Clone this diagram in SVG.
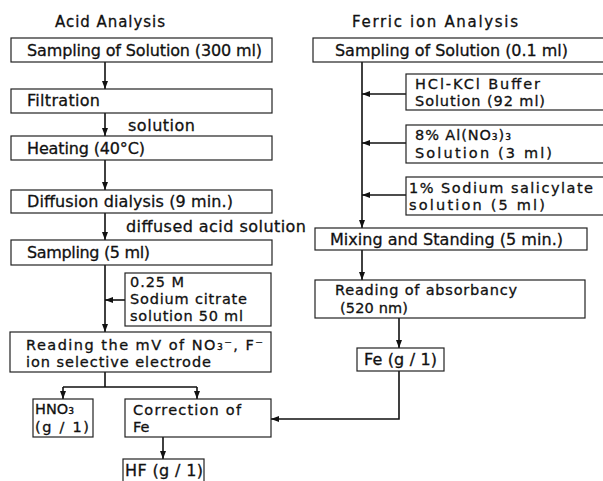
<svg xmlns="http://www.w3.org/2000/svg" width="603" height="481" viewBox="0 0 603 481">
<style>
text{font-family:"DejaVu Sans","Liberation Sans",sans-serif;font-size:16px;fill:#111;stroke:#111;stroke-width:0.3}
.t{font-size:15px}
.m{font-size:14.5px}
.b{fill:#fff;stroke:#222;stroke-width:1.2}
.c{fill:none;stroke:#111;stroke-width:1.6}
</style>
<defs>
<marker id="ah" markerUnits="userSpaceOnUse" markerWidth="8" markerHeight="8" viewBox="0 0 8 6" refX="8" refY="3" orient="auto">
<path d="M0,0 L8,3 L0,6 Z" fill="#111"/>
</marker>
</defs>
<rect width="603" height="481" fill="#fff"/>
<text class="t" x="55" y="27" textLength="110" lengthAdjust="spacing">Acid Analysis</text>
<text class="t" x="352" y="27" textLength="166" lengthAdjust="spacing">Ferric ion Analysis</text>
<g id="connectors">
<path class="c" d="M105,62 V89" marker-end="url(#ah)"/>
<path class="c" d="M105,113 V136" marker-end="url(#ah)"/>
<path class="c" d="M105,160 V190" marker-end="url(#ah)"/>
<path class="c" d="M105,213 V240" marker-end="url(#ah)"/>
<path class="c" d="M105,265 V332" marker-end="url(#ah)"/>
<path class="c" d="M125,300 H105" marker-end="url(#ah)"/>
<path class="c" d="M105,372 V387 M63,387 H197"/>
<path class="c" d="M63,387 V399" marker-end="url(#ah)"/>
<path class="c" d="M197,387 V399" marker-end="url(#ah)"/>
<path class="c" d="M163,437 V459" marker-end="url(#ah)"/>
<path class="c" d="M399,371 V419 H271" marker-end="url(#ah)"/>
<path class="c" d="M362,62 V228" marker-end="url(#ah)"/>
<path class="c" d="M406,94 H362" marker-end="url(#ah)"/>
<path class="c" d="M406,143 H362" marker-end="url(#ah)"/>
<path class="c" d="M406,195 H362" marker-end="url(#ah)"/>
<path class="c" d="M362,250 V280" marker-end="url(#ah)"/>
<path class="c" d="M399,318 V348" marker-end="url(#ah)"/>
</g>
<g id="a1"><rect class="b" x="11" y="38" width="261" height="24"/><text x="27" y="56" textLength="235" lengthAdjust="spacing">Sampling of Solution (300 ml)</text></g>
<g id="a2"><rect class="b" x="11" y="89" width="261" height="24"/><text x="27" y="106" textLength="73" lengthAdjust="spacing">Filtration</text></g>
<text x="128" y="131" textLength="67" lengthAdjust="spacing">solution</text>
<g id="a3"><rect class="b" x="11" y="136" width="261" height="24"/><text x="27" y="154" textLength="118" lengthAdjust="spacing">Heating (40°C)</text></g>
<g id="a4"><rect class="b" x="11" y="190" width="261" height="23"/><text x="27" y="207" textLength="206" lengthAdjust="spacing">Diffusion dialysis (9 min.)</text></g>
<text x="126" y="232" textLength="180" lengthAdjust="spacing">diffused acid solution</text>
<g id="a5"><rect class="b" x="11" y="240" width="261" height="25"/><text x="27" y="258" textLength="123" lengthAdjust="spacing">Sampling (5 ml)</text></g>
<g id="a6"><rect class="b" x="125" y="273" width="146" height="53"/><text class="m" x="130" y="287" textLength="54" lengthAdjust="spacing">0.25 M</text><text class="m" x="130" y="304" textLength="117" lengthAdjust="spacing">Sodium citrate</text><text class="m" x="130" y="321" textLength="113" lengthAdjust="spacing">solution 50 ml</text></g>
<g id="a7"><rect class="b" x="10" y="332" width="261" height="40"/><text class="m" x="26" y="350" textLength="237" lengthAdjust="spacing">Reading the mV of NO₃⁻, F⁻</text><text class="m" x="26" y="367" textLength="185" lengthAdjust="spacing">ion selective electrode</text></g>
<g id="a8"><rect class="b" x="33" y="399" width="60" height="38"/><text class="m" x="35" y="414">HNO₃</text><text class="m" x="35" y="432" textLength="54" lengthAdjust="spacing">(g / 1)</text></g>
<g id="a9"><rect class="b" x="125" y="399" width="146" height="38"/><text class="m" x="133" y="415" textLength="108" lengthAdjust="spacing">Correction of</text><text class="m" x="133" y="432">Fe</text></g>
<g id="a10"><rect class="b" x="123" y="459" width="81" height="25"/><text x="125" y="476" textLength="78" lengthAdjust="spacing">HF (g / 1)</text></g>
<g id="f1"><rect class="b" x="313" y="38" width="295" height="24"/><text x="335" y="56" textLength="233" lengthAdjust="spacing">Sampling of Solution (0.1 ml)</text></g>
<g id="f2"><rect class="b" x="406" y="74" width="202" height="36"/><text class="m" x="415" y="89" textLength="125" lengthAdjust="spacing">HCl-KCl Buffer</text><text class="m" x="415" y="106" textLength="130" lengthAdjust="spacing">Solution (92 ml)</text></g>
<g id="f3"><rect class="b" x="406" y="125" width="202" height="38"/><text class="m" x="415" y="140" textLength="96" lengthAdjust="spacing">8% Al(NO₃)₃</text><text class="m" x="415" y="158" textLength="137" lengthAdjust="spacing">Solution (3 ml)</text></g>
<g id="f4"><rect class="b" x="406" y="177" width="202" height="38"/><text class="m" x="409" y="193" textLength="184" lengthAdjust="spacing">1% Sodium salicylate</text><text class="m" x="409" y="210" textLength="136" lengthAdjust="spacing">solution (5 ml)</text></g>
<g id="f5"><rect class="b" x="315" y="228" width="272" height="22"/><text x="330" y="245" textLength="233" lengthAdjust="spacing">Mixing and Standing (5 min.)</text></g>
<g id="f6"><rect class="b" x="315" y="280" width="270" height="38"/><text class="m" x="335" y="295" textLength="182" lengthAdjust="spacing">Reading of absorbancy</text><text class="m" x="340" y="313" textLength="68" lengthAdjust="spacing">(520 nm)</text></g>
<g id="f7"><rect class="b" x="357" y="348" width="87" height="23"/><text x="364" y="365" textLength="73" lengthAdjust="spacing">Fe (g / 1)</text></g>
</svg>
